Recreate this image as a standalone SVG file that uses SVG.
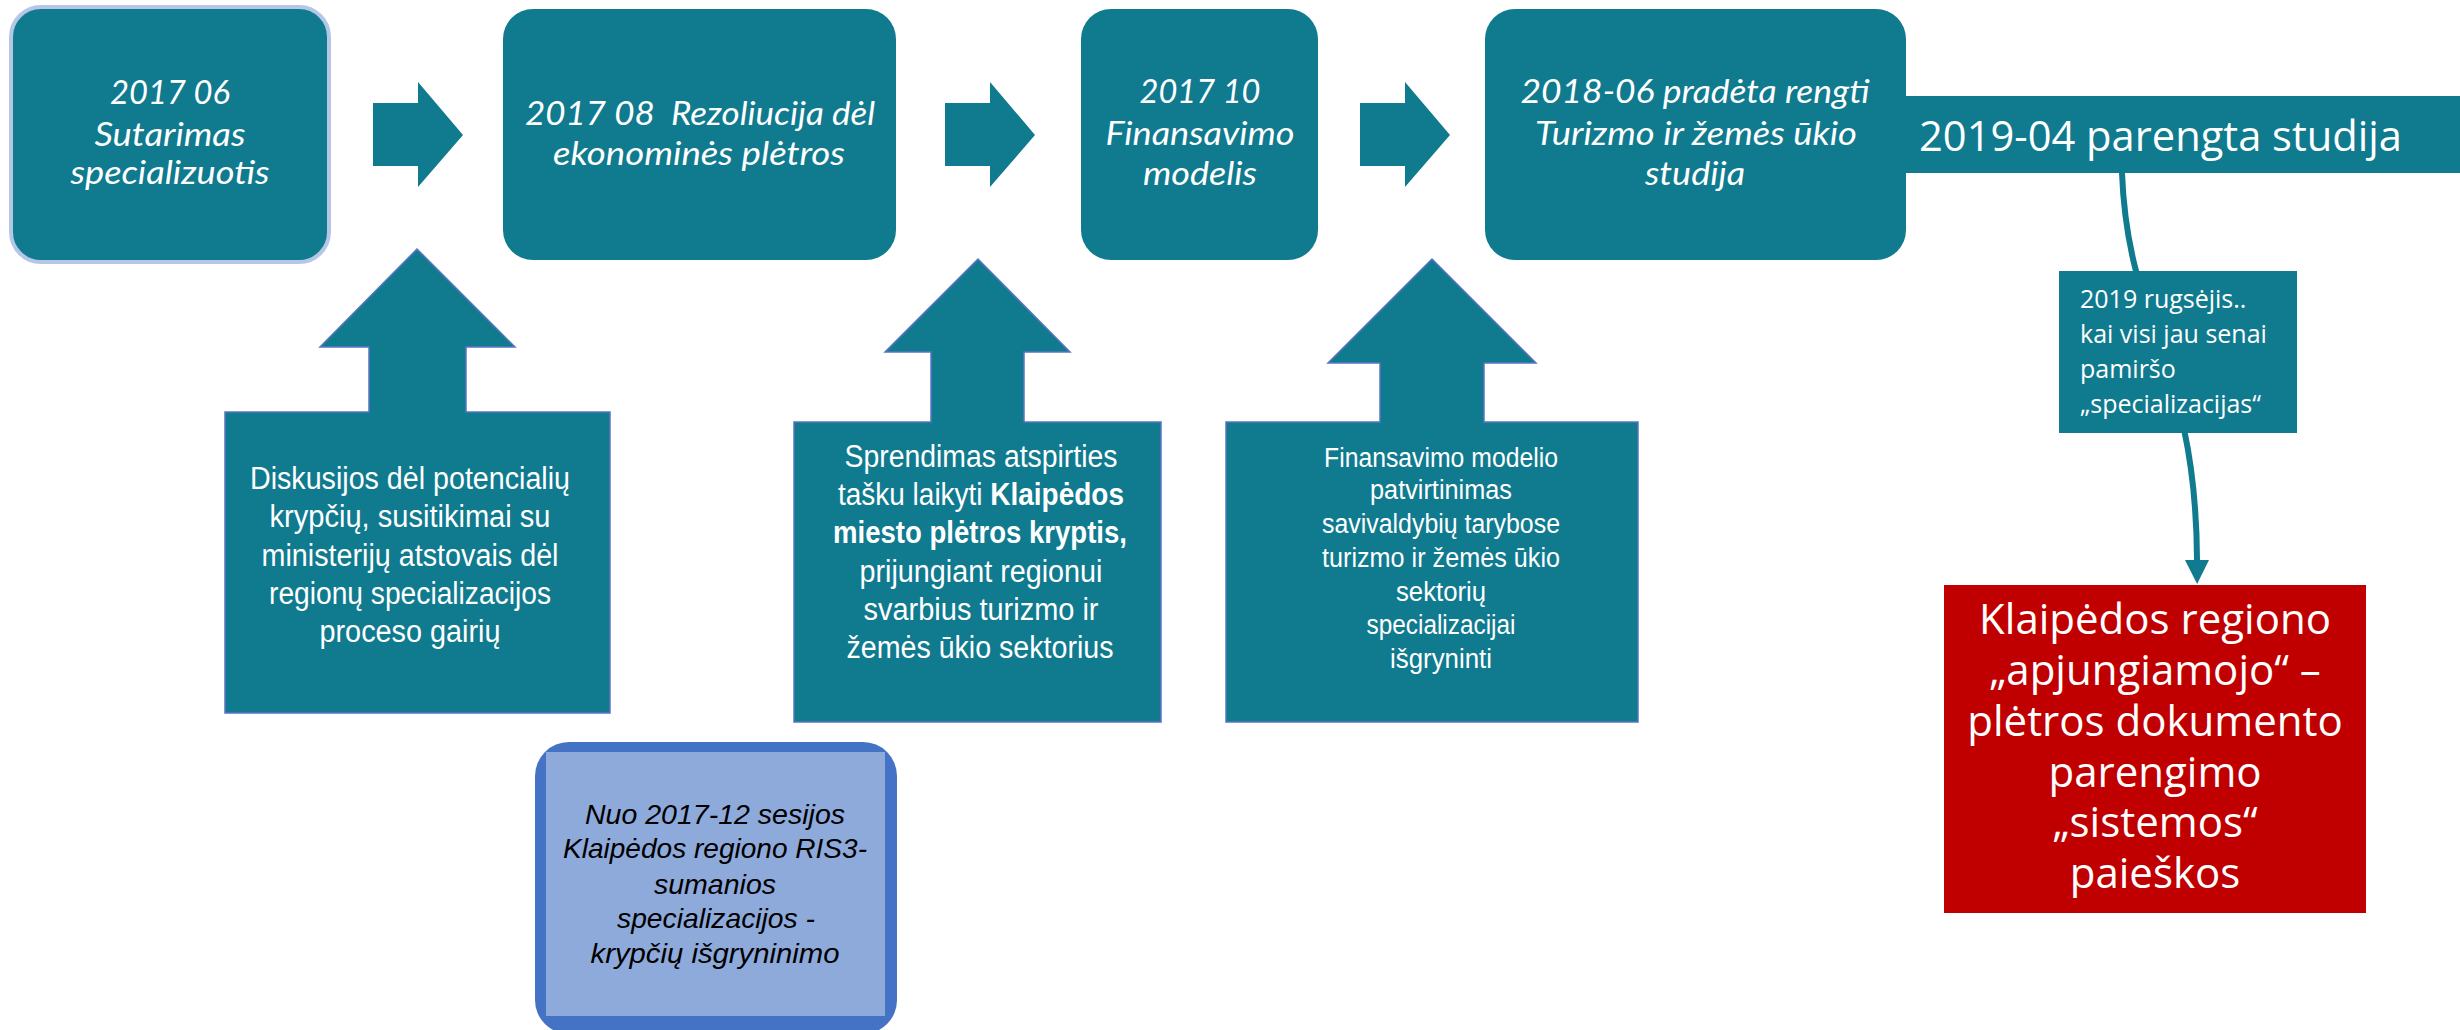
<svg xmlns="http://www.w3.org/2000/svg" width="2460" height="1030" viewBox="0 0 2460 1030">
<style>
.teal{fill:#107a8f}
.call{fill:#107a8f;stroke:#5a74c4;stroke-width:1.5}
.it{font-family:Lato,'Open Sans','Liberation Sans',sans-serif;font-style:italic;font-size:33px;fill:#fff;text-anchor:middle}
.nar{font-family:'Liberation Sans Narrow','Arial Narrow','Liberation Sans',sans-serif;font-stretch:condensed;fill:#fff;text-anchor:middle}
.os{font-family:'Open Sans','Noto Sans',sans-serif;fill:#fff}
.blk{font-family:'Liberation Sans',Arial,sans-serif;font-style:italic;font-size:28.5px;fill:#000;text-anchor:middle}
</style>
<defs>
<marker id="ah" viewBox="0 0 10 10" refX="0" refY="5" markerWidth="25" markerHeight="24" markerUnits="userSpaceOnUse" orient="auto">
<path d="M0,0 L10,5 L0,10 z" fill="#107a8f"/>
</marker>
<polygon id="rarrow" points="0,21 45,21 45,0 90,53 45,105 45,84 0,84"/>
</defs>
<rect width="2460" height="1030" fill="#fff"/>

<g id="connectors">
<use href="#rarrow" class="teal" x="373" y="82"/>
<use href="#rarrow" class="teal" x="945" y="82" transform="translate(0,0)"/>
<use href="#rarrow" class="teal" x="1360" y="82"/>
<path d="M2122,173 C2128,330 2196,360 2197,560" fill="none" stroke="#107a8f" stroke-width="6" marker-end="url(#ah)"/>
</g>

<g id="box1">
<rect x="11" y="7" width="318" height="255" rx="30" fill="#107a8f" stroke="#b4c7e7" stroke-width="4"/>
<text class="it" x="170" y="104" textLength="120" lengthAdjust="spacingAndGlyphs">2017 06</text>
<text class="it" x="170" y="146" textLength="151" lengthAdjust="spacingAndGlyphs">Sutarimas</text>
<text class="it" x="170" y="184" textLength="199" lengthAdjust="spacingAndGlyphs">specializuotis</text>
</g>

<g id="box2">
<rect x="503" y="9" width="393" height="251" rx="30" class="teal"/>
<text class="it" x="700" y="125" textLength="350" lengthAdjust="spacingAndGlyphs" xml:space="preserve">2017 08  Rezoliucija dėl</text>
<text class="it" x="699" y="165" textLength="292" lengthAdjust="spacingAndGlyphs">ekonominės plėtros</text>
</g>

<g id="box3">
<rect x="1081" y="9" width="237" height="251" rx="30" class="teal"/>
<text class="it" x="1200" y="103" textLength="121" lengthAdjust="spacingAndGlyphs">2017 10</text>
<text class="it" x="1200" y="145" textLength="189" lengthAdjust="spacingAndGlyphs">Finansavimo</text>
<text class="it" x="1200" y="185" textLength="114" lengthAdjust="spacingAndGlyphs">modelis</text>
</g>

<g id="box4">
<rect x="1485" y="9" width="421" height="251" rx="30" class="teal"/>
<text class="it" x="1695" y="103" textLength="349" lengthAdjust="spacingAndGlyphs">2018-06 pradėta rengti</text>
<text class="it" x="1696" y="145" textLength="322" lengthAdjust="spacingAndGlyphs">Turizmo ir žemės ūkio</text>
<text class="it" x="1695" y="185" textLength="100" lengthAdjust="spacingAndGlyphs">studija</text>
</g>

<g id="banner">
<rect x="1906" y="96" width="554" height="77" class="teal"/>
<text class="os" x="1919" y="151" font-size="42" textLength="483" lengthAdjust="spacingAndGlyphs">2019-04 parengta studija</text>
</g>

<g id="callout1">
<polygon class="call" points="225,412 369,412 369,347 320,347 417,249 515,347 466,347 466,412 610,412 610,713 225,713"/>
<g class="nar" font-size="31">
<text x="410" y="489" textLength="320" lengthAdjust="spacingAndGlyphs">Diskusijos dėl potencialių</text>
<text x="410" y="527" textLength="281" lengthAdjust="spacingAndGlyphs">krypčių, susitikimai su</text>
<text x="410" y="566" textLength="297" lengthAdjust="spacingAndGlyphs">ministerijų atstovais dėl</text>
<text x="410" y="604" textLength="282" lengthAdjust="spacingAndGlyphs">regionų specializacijos</text>
<text x="410" y="642" textLength="181" lengthAdjust="spacingAndGlyphs">proceso gairių</text>
</g>
</g>

<g id="callout2">
<polygon class="call" points="794,422 931,422 931,352 885,352 978,259 1070,352 1024,352 1024,422 1161,422 1161,722 794,722"/>
<g class="nar" font-size="31">
<text x="981" y="467" textLength="273" lengthAdjust="spacingAndGlyphs">Sprendimas atspirties</text>
<text x="981" y="505" textLength="286" lengthAdjust="spacingAndGlyphs">tašku laikyti <tspan font-weight="bold">Klaipėdos</tspan></text>
<text x="980" y="543" textLength="294" lengthAdjust="spacingAndGlyphs" font-weight="bold">miesto plėtros kryptis,</text>
<text x="981" y="582" textLength="243" lengthAdjust="spacingAndGlyphs">prijungiant regionui</text>
<text x="981" y="620" textLength="235" lengthAdjust="spacingAndGlyphs">svarbius turizmo ir</text>
<text x="980" y="658" textLength="267" lengthAdjust="spacingAndGlyphs">žemės ūkio sektorius</text>
</g>
</g>

<g id="callout3">
<polygon class="call" points="1226,422 1380,422 1380,363 1328,363 1432,259 1536,363 1484,363 1484,422 1638,422 1638,722 1226,722"/>
<g class="nar" font-size="27">
<text x="1441" y="467" textLength="234" lengthAdjust="spacingAndGlyphs">Finansavimo modelio</text>
<text x="1441" y="499" textLength="142" lengthAdjust="spacingAndGlyphs">patvirtinimas</text>
<text x="1441" y="533" textLength="238" lengthAdjust="spacingAndGlyphs">savivaldybių tarybose</text>
<text x="1441" y="567" textLength="238" lengthAdjust="spacingAndGlyphs">turizmo ir žemės ūkio</text>
<text x="1441" y="601" textLength="90" lengthAdjust="spacingAndGlyphs">sektorių</text>
<text x="1441" y="634" textLength="149" lengthAdjust="spacingAndGlyphs">specializacijai</text>
<text x="1441" y="668" textLength="102" lengthAdjust="spacingAndGlyphs">išgryninti</text>
</g>
</g>

<g id="blue-box">
<rect x="535" y="742" width="362" height="292" rx="34" fill="#4472c4"/>
<rect x="546" y="752" width="339" height="264" fill="#8eaadb"/>
<text class="blk" x="715" y="824" textLength="260" lengthAdjust="spacingAndGlyphs">Nuo 2017-12 sesijos</text>
<text class="blk" x="715" y="858" textLength="304" lengthAdjust="spacingAndGlyphs">Klaipėdos regiono RIS3-</text>
<text class="blk" x="715" y="894" textLength="122" lengthAdjust="spacingAndGlyphs">sumanios</text>
<text class="blk" x="716" y="928" textLength="198" lengthAdjust="spacingAndGlyphs">specializacijos -</text>
<text class="blk" x="715" y="963" textLength="249" lengthAdjust="spacingAndGlyphs">krypčių išgryninimo</text>
</g>

<g id="label-2019-rugsejis">
<rect x="2059" y="271" width="238" height="162" class="teal"/>
<g class="os" font-size="25">
<text x="2080" y="308">2019 rugsėjis..</text>
<text x="2080" y="343">kai visi jau senai</text>
<text x="2080" y="378">pamiršo</text>
<text x="2080" y="413">„specializacijas“</text>
</g>
</g>

<g id="red-box">
<rect x="1944" y="585" width="422" height="328" fill="#c00000"/>
<g class="os" font-size="42" text-anchor="middle">
<text x="2155" y="634">Klaipėdos regiono</text>
<text x="2155" y="685">„apjungiamojo“ –</text>
<text x="2155" y="736">plėtros dokumento</text>
<text x="2155" y="787">parengimo</text>
<text x="2155" y="837">„sistemos“</text>
<text x="2155" y="888">paieškos</text>
</g>
</g>
</svg>
